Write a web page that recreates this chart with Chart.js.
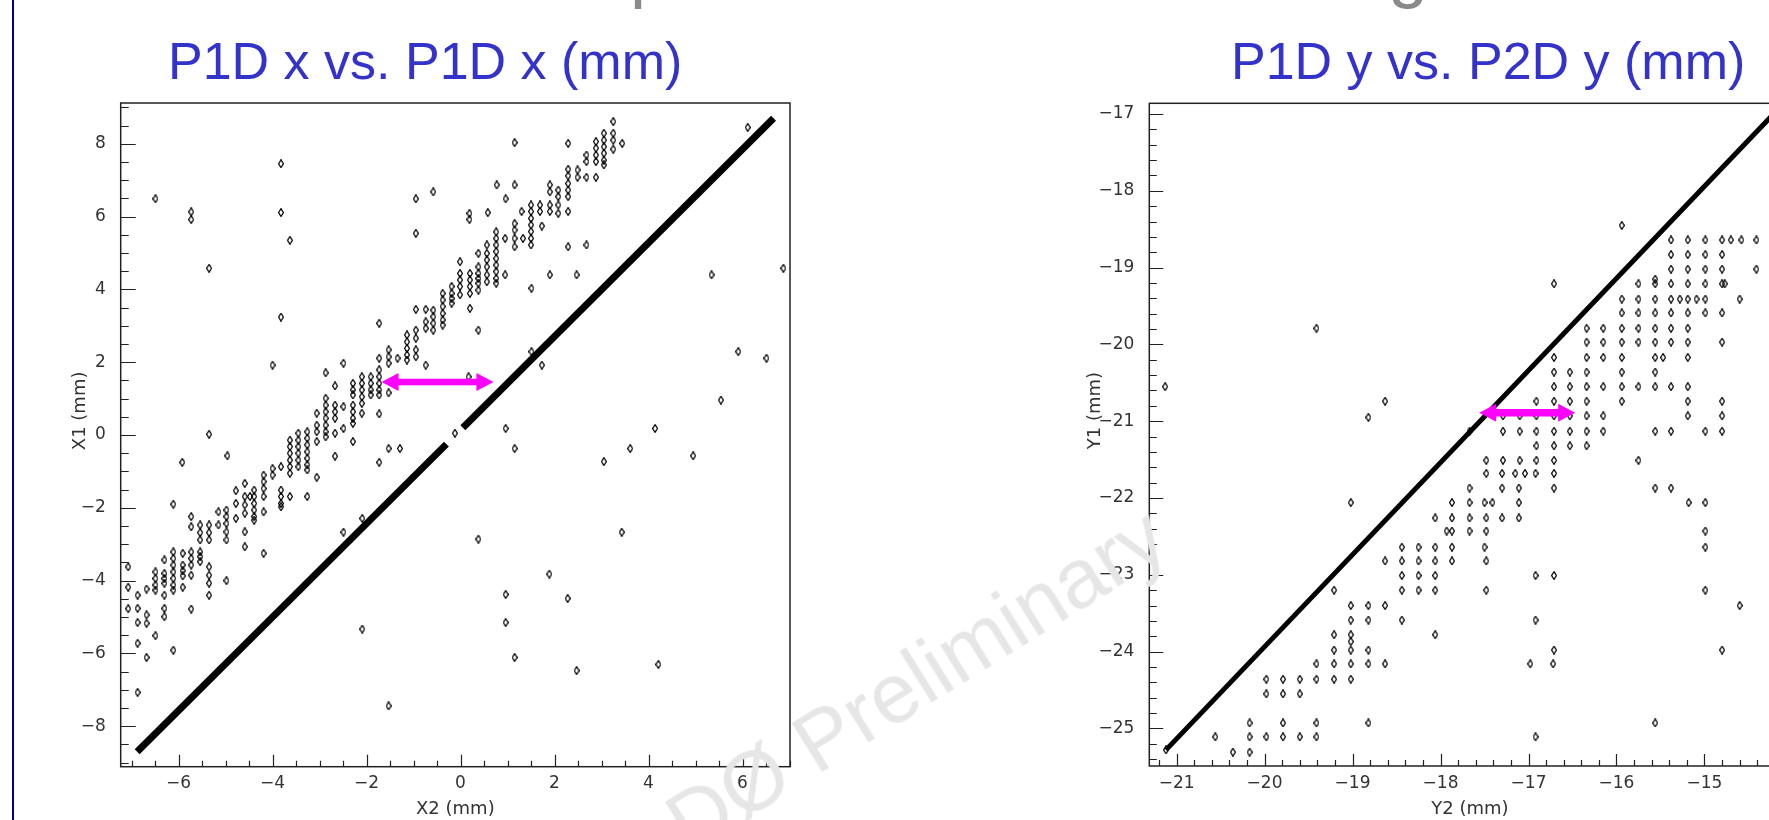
<!DOCTYPE html>
<html>
<head>
<meta charset="utf-8">
<script src="https://cdn.jsdelivr.net/npm/chart.js@4.4.1/dist/chart.umd.min.js"></script>
<style>
  html, body { margin: 0; padding: 0; background: #fff; }
  body { width: 1769px; height: 820px; overflow: hidden; position: relative; font-family: "Liberation Sans", Arial, sans-serif; }
  .bar { position: absolute; left: 12px; top: 0; width: 2px; height: 820px; background: #000090; }
  .title { position: absolute; top: 35px; font-size: 52px; line-height: 52px; color: #3333cc; white-space: nowrap; }
  .cut { position: absolute; top: -67px; font-size: 72px; line-height: 72px; color: #8a8a8a; white-space: nowrap; }
  .box { position: absolute; top: 90px; width: 760px; height: 730px; }
  .mark { position: absolute; left: 652px; top: 794px; font-size: 84px; line-height: 84px; color: #e6e6e6;
          white-space: nowrap; transform: rotate(-32deg); transform-origin: 0 0; pointer-events: none; }
</style>
</head>
<body>
<div class="bar"></div>
<div class="cut" style="left:630px">p</div>
<div class="cut" style="left:1388px">g</div>
<div class="title" style="left:168px">P1D x vs. P1D x (mm)</div>
<div class="title" style="left:1231px">P1D y vs. P2D y (mm)</div>
<div class="box" style="left:40px"><canvas id="leftChart" width="760" height="730"></canvas></div>
<div class="box" style="left:1040px"><canvas id="rightChart" width="760" height="730"></canvas></div>
<div class="mark">DØ Preliminary</div>

<script>
// ---- left plot: X1 vs X2 ----
const leftTicksX = [-6, -4, -2, 0, 2, 4, 6];
const leftTicksY = [-8, -6, -4, -2, 0, 2, 4, 6, 8];

// the dense diagonal band (drawn as two thick segments, small gap near 0)
const leftLineA = [[-6.88, -8.70], [-0.30, -0.25]];
const leftLineB = [[0.05, 0.20], [6.66, 8.70]];

// stacked columns of the correlated band: one x, several y
const leftColX = [3.25, 3.05, 2.88, 2.68, 2.49, 2.29, 2.08, 1.90, 1.69, 1.50, 1.15, 0.76, 0.56, 0.38, 0.20, -0.01,
  -0.19, -0.38, -0.58, -0.74, -0.95, -1.14, -1.53, -1.73, -1.91, -2.10, -2.29, -2.67, -2.87, -3.06, -3.26, -3.45,
  -3.63, -3.82, -4.00, -4.19, -4.39, -4.48, -4.59, -4.78, -4.98, -5.15, -5.35, -5.54, -5.73, -5.91, -6.11, -6.30,
  -6.49, -6.68, -6.87, -7.07];
const leftColY = [
  [8.29, 8.10, 7.85],
  [8.29, 8.10, 7.92, 7.74, 7.55, 7.42],
  [8.06, 7.88, 7.69, 7.51],
  [7.69, 7.51],
  [7.28, 7.08],
  [7.30, 7.12, 6.91, 6.73, 6.55, 6.14],
  [6.73, 6.55, 6.32, 6.09],
  [6.87, 6.68, 6.32, 6.14],
  [6.32, 6.14],
  [6.32, 6.14, 5.95, 5.77, 5.59, 5.40, 5.22],
  [5.81, 5.63, 5.40, 5.17],
  [5.58, 5.40, 5.22, 5.04, 4.85, 4.67, 4.49, 4.30, 4.17],
  [5.22, 4.99, 4.81, 4.62, 4.40, 4.21],
  [4.99, 4.62, 4.44, 4.30, 4.17, 3.98],
  [4.44, 4.26, 4.08, 3.89],
  [4.76, 4.44, 4.26, 4.08, 3.85],
  [4.08, 3.89, 3.75, 3.62],
  [3.89, 3.71, 3.53, 3.34, 3.16, 3.02],
  [3.43, 3.25, 3.07, 2.88],
  [3.45, 3.11, 2.93],
  [3.45, 2.88, 2.66, 2.34, 2.15],
  [2.75, 2.56, 2.38, 2.20, 2.06],
  [2.34, 2.15, 1.97],
  [1.79, 1.60, 1.42, 1.24, 1.10],
  [1.60, 1.42, 1.24, 1.10],
  [1.60, 1.42, 1.24, 1.05, 0.87, 0.60],
  [1.42, 1.24, 1.10, 0.82, 0.64, 0.46, 0.32],
  [0.82, 0.64, 0.46],
  [1.01, 0.82, 0.64, 0.46, 0.27, 0.09, -0.05],
  [0.27, 0.09, -0.18],
  [0.09, -0.09, -0.27, -0.46, -0.64, -0.82, -0.96],
  [0.05, -0.14, -0.32, -0.50, -0.69, -0.87],
  [-0.14, -0.32, -0.50, -0.69, -0.87, -1.05],
  [-0.87, -1.51, -1.69, -1.88, -1.97],
  [-0.92, -1.10],
  [-1.10, -1.28, -1.47, -1.69, -2.11],
  [-1.51, -1.69, -1.88, -2.06, -2.24, -2.34],
  [-1.69],
  [-1.33, -1.69, -1.92, -2.15],
  [-1.53, -1.88, -2.29],
  [-2.06, -2.24, -2.43, -2.66, -2.88],
  [-2.11, -2.47],
  [-2.47, -2.68, -2.88, -3.62, -3.85, -4.07, -4.40],
  [-2.47, -2.68, -2.88, -3.21, -3.34, -3.48],
  [-2.24, -2.52, -3.21, -3.39, -3.57, -3.85],
  [-3.25, -3.57, -3.73, -3.87, -4.18],
  [-3.21, -3.39, -3.57, -3.76, -3.94, -4.12, -4.26],
  [-3.43, -3.80, -3.94, -4.07, -4.40, -4.76, -4.99],
  [-3.76, -3.94, -4.12, -4.26],
  [-4.23, -4.94, -5.17],
  [-4.40, -4.76, -5.15, -5.72],
  [-3.62, -4.18, -4.77]
];

// isolated points
const leftStray = [
  [-6.49, 6.49], [-5.73, 6.13], [-5.73, 5.92], [-3.82, 7.45], [-3.82, 6.11], [-3.63, 5.35], [-5.35, 4.58],
  [-3.82, 3.24], [-4.00, 1.92], [-5.35, 0.02], [-5.92, -0.75], [-4.96, -0.57],
  [-0.95, 6.49], [-0.58, 6.68], [-0.95, 5.54], [0.77, 6.87], [0.96, 6.49], [0.19, 6.09], [0.19, 5.92], [0.58, 6.11],
  [-0.74, 1.92], [-2.49, 1.97], [-2.87, 1.71], [-2.67, 1.35], [-1.73, 3.07], [-1.53, 1.16], [-1.73, 0.58],
  [-2.49, 0.78], [-2.49, 0.18], [-2.29, -0.18], [-3.06, 0.60], [-2.67, 0.05], [-2.67, -0.58], [-1.53, -0.37],
  [-1.29, -0.37], [-1.73, -0.75], [-0.12, 0.05], [0.96, 0.18], [-1.34, 2.11], [-1.73, 2.11],
  [3.25, 8.61], [1.15, 8.03], [2.29, 8.01], [3.44, 8.01], [1.15, 6.87], [1.30, 6.14], [1.73, 5.74], [1.33, 5.40],
  [0.95, 5.40], [0.95, 4.40], [1.90, 4.40], [2.47, 4.40], [2.29, 5.17], [2.68, 5.22], [1.51, 4.03], [0.20, 3.48],
  [0.38, 2.88], [1.51, 2.29], [1.73, 1.92], [0.17, 1.60], [2.88, 7.08], [2.68, 7.08],
  [5.34, 4.40], [6.11, 8.45], [6.87, 4.58], [5.91, 2.29], [6.51, 2.11], [5.54, 0.96], [4.14, 0.18], [1.15, -0.37],
  [3.61, -0.37], [3.05, -0.73], [4.95, -0.57],
  [0.38, -2.86], [3.43, -2.67], [1.89, -3.82], [0.96, -4.38], [2.28, -4.49], [0.96, -5.15], [1.15, -6.11],
  [2.47, -6.47], [4.21, -6.30],
  [-2.09, -2.29], [-2.49, -2.67], [-2.09, -5.33], [-1.53, -7.44], [-6.11, -1.90], [-4.98, -4.00], [-6.11, -5.91],
  [-6.68, -6.11], [-6.87, -7.07], [-6.49, -5.51], [-5.73, -4.78], [-4.19, -3.25], [-4.59, -3.07], [-4.59, -2.66],
  [-3.26, -1.69], [-3.63, -1.69], [-3.06, -1.16]
];

// magenta arrow: x from, x to, y
const leftArrow = [-1.68, 0.70, 1.46];

// ---- right plot: Y1 vs Y2 ----
const rightTicksX = [-21, -20, -19, -18, -17, -16, -15];
const rightTicksY = [-25, -24, -23, -22, -21, -20, -19, -18, -17];

const rightLine = [[-21.12, -25.28], [-14.15, -16.92]];

// rows of the quantised cluster: one y, several x
const rightRowY = [-18.64, -18.83, -19.02, -19.21, -19.41, -19.59, -19.79, -19.97, -20.17, -20.36, -20.55, -20.74,
  -20.93, -21.13, -21.32, -21.51, -21.68, -21.87, -22.06, -22.26, -22.43, -22.64, -22.82, -23.01, -23.20, -23.40,
  -23.59, -23.78, -23.98, -24.16, -24.36, -24.55, -24.93, -25.11, -25.31];
const rightRowX = [
  [-15.38, -15.19, -14.99, -14.80, -14.70, -14.58, -14.41],
  [-15.38, -15.19, -14.99, -14.80],
  [-15.38, -15.19, -14.99, -14.80, -14.41],
  [-15.75, -15.56, -15.38, -15.19, -14.99, -14.80, -14.77],
  [-15.94, -15.75, -15.56, -15.38, -15.28, -15.19, -15.09, -14.99, -14.60],
  [-15.94, -15.75, -15.56, -15.38, -15.19, -14.99, -14.80],
  [-16.34, -16.15, -15.94, -15.75, -15.56, -15.38, -15.19],
  [-16.34, -16.15, -15.94, -15.75, -15.56, -15.38, -15.19, -14.80],
  [-16.71, -16.34, -16.15, -15.94, -15.56, -15.47, -15.19],
  [-16.71, -16.53, -16.34, -15.94, -15.56],
  [-16.71, -16.53, -16.34, -16.15, -15.94, -15.75, -15.56, -15.38, -15.19],
  [-16.91, -16.71, -16.53, -16.34, -15.94, -15.19, -14.80],
  [-17.29, -17.10, -16.91, -16.71, -16.53, -16.34, -16.15, -15.19, -14.80],
  [-17.67, -17.29, -17.10, -16.91, -16.71, -16.53, -16.34, -16.15, -15.56, -15.38, -14.99, -14.80],
  [-16.91, -16.71, -16.53, -16.34],
  [-17.48, -17.29, -17.10, -16.91, -16.71, -15.75],
  [-17.48, -17.30, -17.15, -17.04, -16.92, -16.71],
  [-17.67, -17.30, -17.11, -16.71, -15.56, -15.38],
  [-19.02, -17.87, -17.67, -17.50, -17.41, -17.11, -15.18, -14.99],
  [-18.06, -17.87, -17.67, -17.48, -17.30, -17.11],
  [-17.93, -17.87, -17.67, -17.48, -14.99],
  [-18.44, -18.25, -18.06, -17.87, -17.50, -14.99],
  [-18.63, -18.44, -18.25, -18.06, -17.87, -17.48],
  [-18.44, -18.25, -18.06, -16.92, -16.71],
  [-19.21, -18.44, -18.25, -18.06, -17.48, -14.99],
  [-19.02, -18.82, -18.63, -14.60],
  [-19.02, -18.82, -18.44, -16.92],
  [-19.21, -19.02, -18.06],
  [-19.21, -19.02, -18.82, -16.71, -14.80],
  [-19.41, -19.21, -19.02, -18.82, -18.63, -16.98, -16.72],
  [-19.98, -19.79, -19.60, -19.41, -19.21, -19.02],
  [-19.98, -19.79, -19.60],
  [-20.17, -19.79, -19.41, -18.82, -15.56],
  [-20.56, -20.17, -19.98, -19.79, -19.60, -19.41, -16.92],
  [-20.36, -20.17]
];

const rightStray = [
  [-21.13, -20.55], [-19.41, -19.79], [-18.82, -20.95], [-18.63, -20.74], [-21.12, -25.28], [-19.02, -23.87],
  [-15.94, -18.45], [-16.71, -19.21], [-15.56, -19.15]
];

const rightArrow = [-17.56, -16.47, -20.89];

// ---------------------------------------------------------------
const toXY = (pairs) => pairs.map(p => ({ x: p[0], y: p[1] }));
const fmt = (v) => (v < 0 ? "\u2212" : "") + Math.abs(v);

let leftPoints = toXY(leftStray);
leftColX.forEach((x, i) => leftColY[i].forEach(y => leftPoints.push({ x: x, y: y })));

let rightPoints = toXY(rightStray);
rightRowY.forEach((y, i) => rightRowX[i].forEach(x => rightPoints.push({ x: x, y: y })));

// small hollow diamond marker like the PAW one
const diamond = document.createElement("canvas");
diamond.width = 6;
diamond.height = 9;
(function () {
  const g = diamond.getContext("2d");
  g.strokeStyle = "#000";
  g.lineWidth = 1.2;
  g.beginPath();
  g.moveTo(3, 0.6);
  g.lineTo(5.4, 4.5);
  g.lineTo(3, 8.4);
  g.lineTo(0.6, 4.5);
  g.closePath();
  g.stroke();
})();

const tickFont = { family: "DejaVu Sans", size: 17 };
const titleFont = { family: "DejaVu Sans", size: 18 };

// frame, inward ticks (major + minor) and the vertical axis title
const pawFrame = {
  id: "pawFrame",
  afterDraw(chart, args, opts) {
    const { ctx, chartArea: a } = chart;
    const xs = chart.scales.x, ys = chart.scales.y;
    ctx.save();
    ctx.strokeStyle = "#222";
    ctx.lineWidth = 1.5;
    ctx.strokeRect(a.left, a.top, a.right - a.left, a.bottom - a.top);
    ctx.lineWidth = 1.2;
    ctx.beginPath();
    let k = Math.round(opts.xMajor / opts.xMinor);
    for (let i = Math.ceil(xs.min / opts.xMinor); i * opts.xMinor <= xs.max; i++) {
      const px = Math.round(xs.getPixelForValue(i * opts.xMinor)) + 0.5;
      ctx.moveTo(px, a.bottom);
      ctx.lineTo(px, a.bottom - (i % k === 0 ? opts.xLen[0] : opts.xLen[1]));
    }
    k = Math.round(opts.yMajor / opts.yMinor);
    for (let i = Math.ceil(ys.min / opts.yMinor); i * opts.yMinor <= ys.max; i++) {
      const py = Math.round(ys.getPixelForValue(i * opts.yMinor)) + 0.5;
      ctx.moveTo(a.left, py);
      ctx.lineTo(a.left + (i % k === 0 ? opts.yLen[0] : opts.yLen[1]), py);
    }
    ctx.stroke();

    // y title sits a little above the middle of the axis, as PAW puts it
    ctx.translate(ys.left + opts.yTitleX, (a.top + a.bottom) / 2 - opts.yTitleShift);
    ctx.rotate(-Math.PI / 2);
    ctx.font = titleFont.size + "px " + titleFont.family;
    ctx.fillStyle = "#333";
    ctx.textAlign = "center";
    ctx.textBaseline = "middle";
    ctx.fillText(opts.yTitle, 0, 0);
    ctx.restore();
  }
};

// double headed magenta arrow
const pawArrow = {
  id: "pawArrow",
  afterDatasetsDraw(chart, args, opts) {
    const ctx = chart.ctx;
    const x1 = chart.scales.x.getPixelForValue(opts.arrow[0]);
    const x2 = chart.scales.x.getPixelForValue(opts.arrow[1]);
    const y = chart.scales.y.getPixelForValue(opts.arrow[2]);
    const hl = 17, hh = 9, sh = opts.shaft / 2;
    ctx.save();
    ctx.fillStyle = "#ff00ff";
    ctx.beginPath();
    ctx.moveTo(x1, y);
    ctx.lineTo(x1 + hl, y - hh);
    ctx.lineTo(x1 + hl, y - sh);
    ctx.lineTo(x2 - hl, y - sh);
    ctx.lineTo(x2 - hl, y - hh);
    ctx.lineTo(x2, y);
    ctx.lineTo(x2 - hl, y + hh);
    ctx.lineTo(x2 - hl, y + sh);
    ctx.lineTo(x1 + hl, y + sh);
    ctx.lineTo(x1 + hl, y + hh);
    ctx.closePath();
    ctx.fill();
    ctx.restore();
  }
};

function makePlot(id, cfg) {
  const lineSets = cfg.lines.map(seg => ({
    type: "line",
    data: toXY(seg),
    borderColor: "#000",
    borderWidth: cfg.lineWidth,
    borderCapStyle: "butt",
    pointRadius: 0,
    fill: false,
    tension: 0
  }));
  return new Chart(document.getElementById(id), {
    type: "scatter",
    data: {
      datasets: [
        {
          data: cfg.points,
          pointStyle: diamond,
          pointRadius: 3,
          pointHoverRadius: 3
        }
      ].concat(lineSets)
    },
    options: {
      responsive: false,
      animation: false,
      devicePixelRatio: 1,
      events: [],
      layout: { padding: { top: cfg.padTop, right: cfg.padRight, left: 0, bottom: 0 } },
      plugins: {
        legend: { display: false },
        tooltip: { enabled: false },
        pawFrame: cfg.frame,
        pawArrow: { arrow: cfg.arrow, shaft: cfg.shaft }
      },
      scales: {
        x: {
          type: "linear",
          min: cfg.xMin,
          max: cfg.xMax,
          afterBuildTicks: s => { s.ticks = cfg.xTicks.map(v => ({ value: v })); },
          afterFit: s => { s.height = cfg.xHeight; s.paddingLeft = 0; s.paddingRight = 0; },
          grid: { display: false, drawTicks: false },
          border: { display: false },
          ticks: { callback: fmt, font: tickFont, color: "#333", padding: 7, maxRotation: 0, autoSkip: false },
          title: { display: true, text: cfg.xTitle, font: titleFont, color: "#333", padding: { top: 0, bottom: 0 } }
        },
        y: {
          type: "linear",
          min: cfg.yMin,
          max: cfg.yMax,
          afterBuildTicks: s => { s.ticks = cfg.yTicks.map(v => ({ value: v })); },
          afterFit: s => { s.width = cfg.yWidth; s.paddingTop = 0; s.paddingBottom = 0; },
          grid: { display: false, drawTicks: false },
          border: { display: false },
          ticks: { callback: fmt, font: tickFont, color: "#333", padding: 15, autoSkip: false }
        }
      }
    },
    plugins: [pawFrame, pawArrow]
  });
}

makePlot("leftChart", {
  points: leftPoints,
  lines: [leftLineA, leftLineB],
  lineWidth: 7,
  arrow: leftArrow,
  shaft: 6.5,
  xMin: -7.23, xMax: 7.01, yMin: -9.11, yMax: 9.12,
  xTicks: leftTicksX, yTicks: leftTicksY,
  xTitle: "X2 (mm)",
  padTop: 13, padRight: 10, xHeight: 53.3, yWidth: 80.7,
  frame: { xMinor: 0.5, xMajor: 2, yMinor: 0.5, yMajor: 2, xLen: [12, 6], yLen: [15, 8],
           yTitle: "X1 (mm)", yTitleX: 40, yTitleShift: 24 }
});

makePlot("rightChart", {
  points: rightPoints,
  lines: [rightLine],
  lineWidth: 5,
  arrow: rightArrow,
  shaft: 7.5,
  xMin: -21.31, xMax: -14.02, yMin: -25.49, yMax: -16.86,
  xTicks: rightTicksX, yTicks: rightTicksY,
  xTitle: "Y2 (mm)",
  padTop: 13.3, padRight: 9.3, xHeight: 54, yWidth: 109.3,
  frame: { xMinor: 0.2, xMajor: 1, yMinor: 0.2, yMajor: 1, xLen: [12, 6], yLen: [14, 7.5],
           yTitle: "Y1 (mm)", yTitleX: 55, yTitleShift: 24 }
});
</script>
</body>
</html>
